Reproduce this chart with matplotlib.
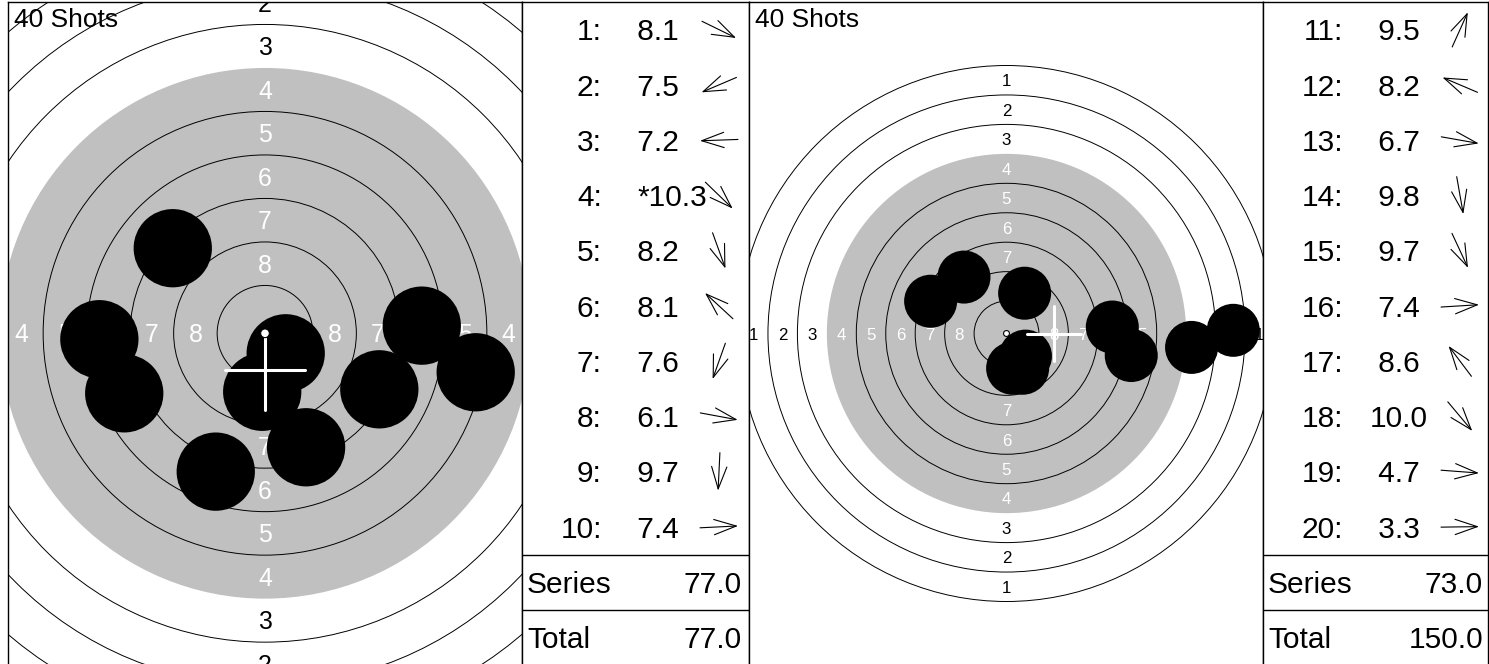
import math

import matplotlib
matplotlib.use("Agg")
import matplotlib.pyplot as plt
from matplotlib.patches import Circle

plt.rcParams["font.family"] = ["Liberation Sans", "DejaVu Sans"]

# ---- data (shot positions in mm from target centre) ----
shots_caption = "40 Shots"

s1_numbers = [1, 2, 3, 4, 5, 6, 7, 8, 9, 10]
s1_scores = [8.1, 7.5, 7.2, 10.3, 8.2, 8.1, 7.6, 6.1, 9.7, 7.4]
s1_x = [6.57, -8.09, -9.52, 1.19, 2.36, -5.30, -2.83, 12.11, -0.16, 9.01]
s1_y = [-3.22, -3.45, -0.34, -1.15, -6.55, 4.89, -7.95, -2.24, -3.36, 0.44]
s1_inner_tens = [4]
s1_mpi = (0.02, -2.11)

s2_numbers = [11, 12, 13, 14, 15, 16, 17, 18, 19, 20]
s2_scores = [9.5, 8.2, 6.7, 9.8, 9.7, 7.4, 8.6, 10.0, 4.7, 3.3]
s2_x = [1.54, -6.44, 10.59, 0.52, 1.37, 8.98, -3.61, 1.61, 15.71, 19.25]
s2_y = [3.42, 2.74, -1.87, -2.95, -2.95, 0.55, 4.79, -1.92, -1.18, 0.27]
s2_inner_tens = []
s2_mpi = (4.05, 0.0)

ring_values = [1, 2, 3, 4, 5, 6, 7, 8, 9, 10]

# 10m air rifle target geometry (mm)
RING_STEP = 2.5
TEN_R = 0.25
PELLET_R = 2.25
BLACK_FROM = 4
CROSS_ARM = 2.3
LABEL_MM = 1.43
GRAY = "#c0c0c0"

W, H = 1489, 664
TABLE_FS = 21.5
CAP_PX = 0.716 * TABLE_FS / 0.72

fig = plt.figure(figsize=(W / 100, H / 100), dpi=100)


def add_px_axes(left, top, right, bottom):
    ax = fig.add_axes([left / W, 1 - bottom / H, (right - left) / W, (bottom - top) / H])
    for sp in ax.spines.values():
        sp.set_linewidth(1.0)
    ax.spines["bottom"].set_visible(False)
    ax.set_xticks([])
    ax.set_yticks([])
    return ax


def ring_radius(k):
    return TEN_R + (10 - k) * RING_STEP


def draw_target(box, centre, scale, xs, ys, mpi):
    left, top, right, bottom = box
    cx, cy = centre
    ax = add_px_axes(*box)
    x0, x1 = (left - cx) / scale, (right - cx) / scale
    y0, y1 = (cy - bottom) / scale, (cy - top) / scale
    ax.set_xlim(x0, x1)
    ax.set_ylim(y0, y1)

    ax.add_patch(Circle((0, 0), ring_radius(BLACK_FROM), fc=GRAY, ec="none", zorder=1))
    for k in ring_values[:-1]:
        if k != BLACK_FROM:
            ax.add_patch(Circle((0, 0), ring_radius(k), fill=False, ec="black", lw=0.7, zorder=2))

    fs = LABEL_MM * scale * 0.72
    off = 0.358 * LABEL_MM
    half = LABEL_MM / 2
    for k in ring_values[:8]:
        r = ring_radius(k) - RING_STEP / 2
        col = "white" if k >= BLACK_FROM else "black"
        for x, y in [(0, r), (0, -r), (r, 0), (-r, 0)]:
            # skip ring numbers that fall completely outside the view
            if x - half > x1 or x + half < x0 or y - half > y1 or y + half < y0:
                continue
            ax.text(x, y - off, str(k), ha="center", va="baseline", fontsize=fs,
                    color=col, zorder=3, clip_on=True)

    for x, y in zip(xs, ys):
        ax.add_patch(Circle((x, y), PELLET_R, fc="black", ec="none", zorder=4))

    mx, my = mpi
    ax.plot([mx - CROSS_ARM, mx + CROSS_ARM], [my, my], color="white", lw=2.2,
            solid_capstyle="round", zorder=5)
    ax.plot([mx, mx], [my - CROSS_ARM, my + CROSS_ARM], color="white", lw=2.2,
            solid_capstyle="round", zorder=5)
    ax.add_patch(Circle((0, 0), TEN_R, fc="white", ec="black", lw=0.8, zorder=6))

    ax.annotate(shots_caption, xy=(0, 1), xycoords="axes fraction", xytext=(6, -6),
                textcoords="offset pixels", ha="left", va="top", fontsize=19, zorder=7)
    return ax


def draw_table(box, numbers, scores, xs, ys, inner, series, total):
    left, top, right, bottom = box
    ax = add_px_axes(*box)
    w, h = right - left, bottom - top
    ax.set_xlim(0, w)
    ax.set_ylim(h, 0)
    row_h = h / 12

    for i, (n, s, x, y) in enumerate(zip(numbers, scores, xs, ys)):
        cy = (i + 0.5) * row_h
        base = cy + CAP_PX / 2
        ax.text(80, base, f"{n}:", ha="right", va="baseline", fontsize=TABLE_FS)
        if n in inner:
            ax.text(115, base, f"*{s:.1f}", ha="left", va="baseline", fontsize=TABLE_FS)
        else:
            ax.text(107, base, f"{s:4.1f}", ha="left", va="baseline", fontsize=TABLE_FS)
        ang = math.atan2(y, x)
        dx, dy = 19 * math.cos(ang), -19 * math.sin(ang)
        ax.annotate("", xy=(197 + dx, cy + dy), xytext=(197 - dx, cy - dy),
                    arrowprops=dict(arrowstyle="->,head_length=1.6,head_width=0.55",
                                    mutation_scale=10, lw=0.8, color="black",
                                    shrinkA=0, shrinkB=0))

    ax.axhline(10 * row_h, color="black", lw=1.0)
    ax.axhline(11 * row_h, color="black", lw=1.0)
    for row, label, val in [(10, "Series", series), (11, "Total", total)]:
        base = (row + 0.5) * row_h + CAP_PX / 2
        ax.text(5, base, label, ha="left", va="baseline", fontsize=TABLE_FS)
        ax.text(220, base, f"{val:.1f}", ha="right", va="baseline", fontsize=TABLE_FS)
    return ax


series1 = sum(math.floor(s) for s in s1_scores)
series2 = sum(math.floor(s) for s in s2_scores)

draw_target((8, 2, 522, 665), (265, 333.3), 17.4, s1_x, s1_y, s1_mpi)
draw_table((522, 2, 749, 665), s1_numbers, s1_scores, s1_x, s1_y, s1_inner_tens,
           series1, series1)
draw_target((749, 2, 1263, 665), (1006.5, 333.5), 11.78, s2_x, s2_y, s2_mpi)
draw_table((1263, 2, 1487.5, 665), s2_numbers, s2_scores, s2_x, s2_y, s2_inner_tens,
           series2, series1 + series2)

fig.savefig("out.png", dpi=100)
